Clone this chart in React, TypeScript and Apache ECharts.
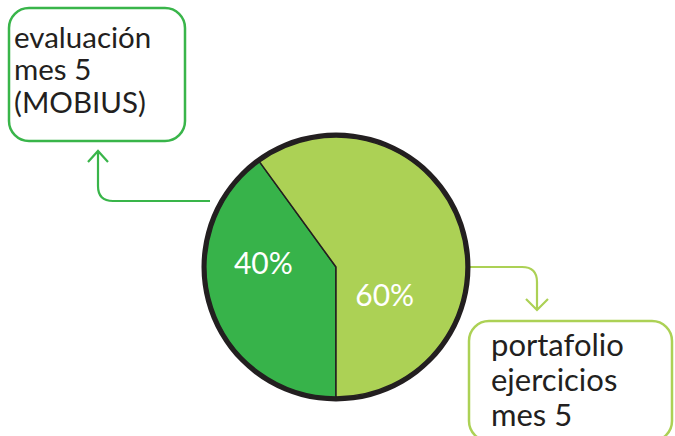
import React, { useEffect, useRef } from "react";
import * as echarts from "echarts";

const categories = ["evaluación mes 5 (MOBIUS)", "portafolio ejercicios mes 5"];
const values = [40, 60];
const colors = ["#37b34a", "#acd155"];
const leftLabelLines = ["evaluación", "mes 5", "(MOBIUS)"];
const rightLabelLines = ["portafolio", "ejercicios", "mes 5"];

echarts.graphic.registerShape(
  "arrowLeft",
  echarts.graphic.extendPath(
    "M98 151 L98 186 Q98 201 113 201 L210 201 M88 162 L98 151 L108 162",
    {}
  )
);
echarts.graphic.registerShape(
  "arrowRight",
  echarts.graphic.extendPath(
    "M468 267 L522 267 Q537 267 537 282 L537 310 M526 299 L537 310 L548 299",
    {}
  )
);

export default function App() {
  const ref = useRef<HTMLDivElement>(null);
  useEffect(() => {
    if (!ref.current) return;
    const chart = echarts.init(ref.current, null, { renderer: "svg" });
    const font = "Lato";
    const offsets: [number, number][] = [[-8, -26], [-16, 48]];
    const textLines = (
      lines: string[],
      x: number,
      top: number,
      step: number,
      size: number
    ) =>
      lines.map((t, i) => ({
        type: "text",
        x,
        y: top + i * step,
        style: {
          text: t,
          fill: "#231f20",
          font: `${size}px ${font}`,
          verticalAlign: "top",
        },
      }));
    chart.setOption({
      animation: false,
      backgroundColor: "#ffffff",
      series: [
        {
          type: "pie",
          silent: true,
          center: [336, 267],
          radius: [0, 134.5],
          label: { show: false },
          labelLine: { show: false },
          itemStyle: { color: "#231f20" },
          data: [{ value: 1, name: "" }],
          z: 1,
        },
        {
          type: "pie",
          center: [336, 267],
          radius: [0, 130],
          startAngle: 270,
          clockwise: true,
          z: 2,
          itemStyle: { borderColor: "#231f20", borderWidth: 1.5 },
          label: {
            show: true,
            position: "inside",
            formatter: "{c}%",
            color: "#ffffff",
            fontFamily: font,
            fontSize: 30,
          },
          labelLine: { show: false },
          data: categories.map((name, i) => ({
            name,
            value: values[i],
            itemStyle: { color: colors[i] },
            label: { offset: offsets[i] },
          })),
        },
      ],
      graphic: [
        {
          type: "rect",
          shape: { x: 9, y: 8, width: 176, height: 133, r: 20 },
          style: { fill: "none", stroke: "#39b54a", lineWidth: 2.5 },
        },
        ...textLines(leftLabelLines, 14, 21, 32.5, 29.5),
        {
          type: "rect",
          shape: { x: 469, y: 321, width: 203, height: 120, r: 20 },
          style: { fill: "none", stroke: "#acd155", lineWidth: 2.5 },
        },
        ...textLines(rightLabelLines, 491, 328, 35, 31),
        {
          type: "arrowLeft",
          x: 0,
          y: 0,
          style: { fill: "none", stroke: "#39b54a", lineWidth: 2.2 },
        },
        {
          type: "arrowRight",
          x: 0,
          y: 0,
          style: { fill: "none", stroke: "#acd155", lineWidth: 2.2 },
        },
      ],
    });
    return () => chart.dispose();
  }, []);
  return (
    <div
      ref={ref}
      style={{ position: "fixed", left: 0, top: 0, width: 675, height: 436 }}
    />
  );
}
